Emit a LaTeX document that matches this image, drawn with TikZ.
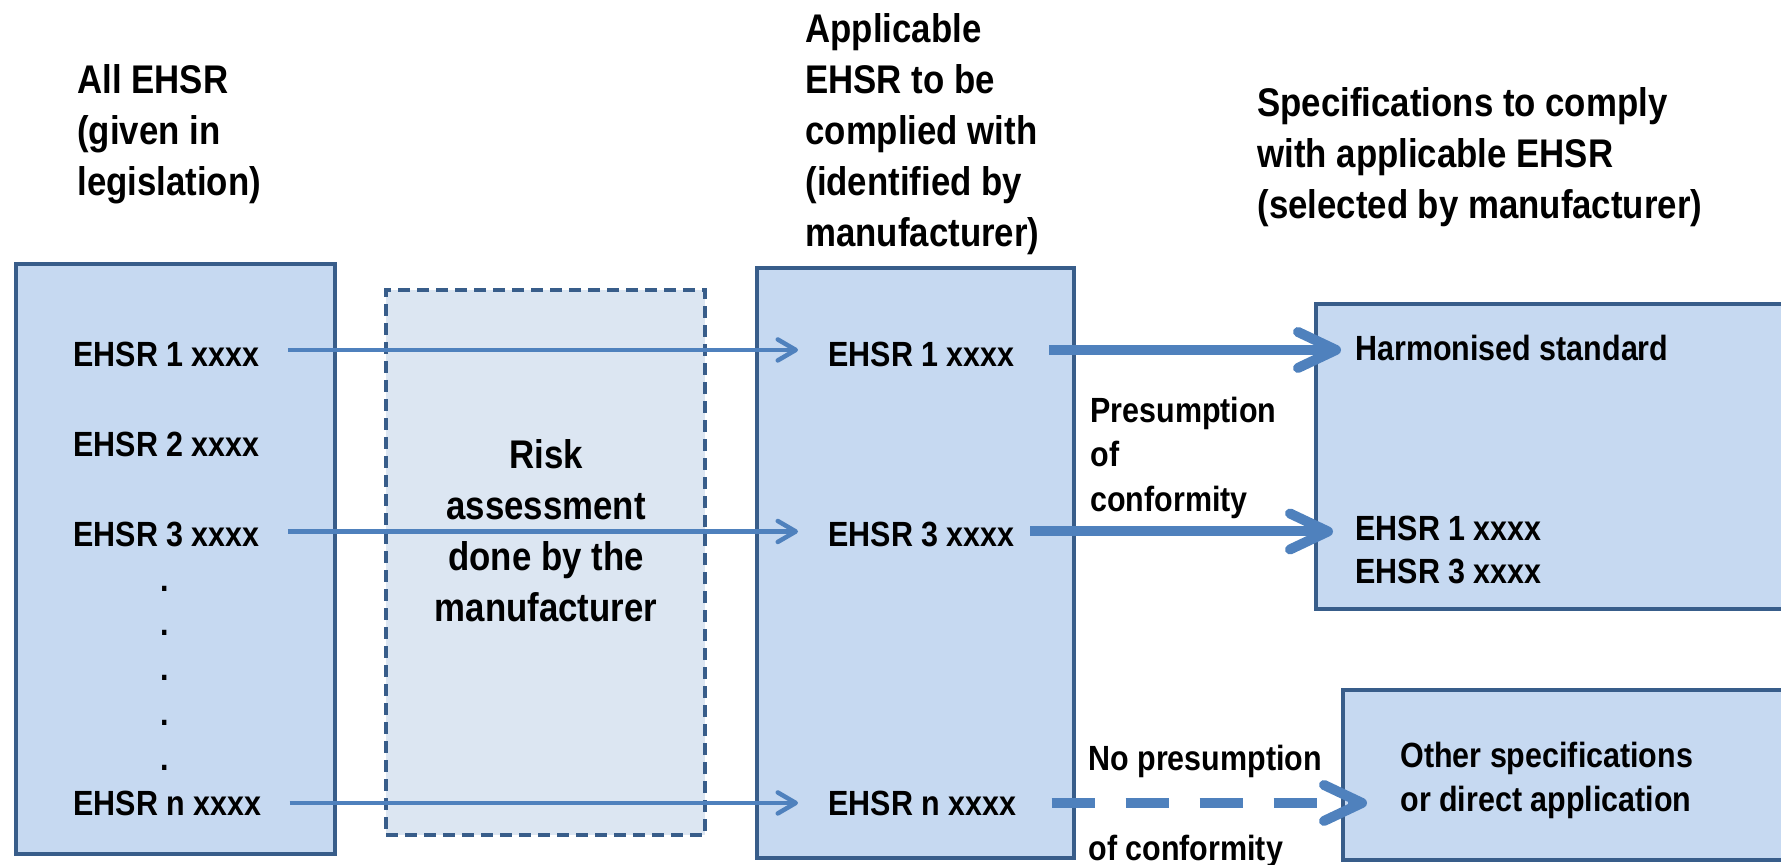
\documentclass[tikz,border=0pt]{standalone}
\usepackage{fontspec}
\setmainfont{Liberation Sans}[FakeStretch=0.87]
\usetikzlibrary{arrows.meta}
\definecolor{boxfill}{HTML}{C6D9F1}
\definecolor{riskfill}{HTML}{DCE6F2}
\definecolor{boxline}{HTML}{385D8A}
\definecolor{arrowblue}{HTML}{4F81BD}

\begin{document}
\begin{tikzpicture}[x=0.5pt, y=-0.5pt,
	box/.style = {draw=boxline, fill=boxfill, line width=2pt, anchor=north west, inner sep=0pt},
	head/.style = {font=\fontsize{20}{25.5}\selectfont\bfseries, align=left, anchor=base west, inner sep=0pt},
	item/.style = {font=\fontsize{17.5}{22.25}\selectfont\bfseries, align=left, anchor=base west, inner sep=0pt},
	link/.style = {draw=arrowblue, line width=2.25pt, -{Straight Barb[length=9pt, width=10.5pt, round]}, shorten <=14pt, shorten >=15pt},
	presume/.style = {draw=arrowblue, line width=5pt, -{Straight Barb[length=19pt, width=18pt, round]}}]
				\clip (0,0) rectangle (1781,865);
				\node[box, minimum width=159.5pt, minimum height=295pt] (L) at (14,262) {};
				\node[box, fill=riskfill, dash pattern=on 6pt off 3.5pt, minimum width=159.5pt, minimum height=272.5pt] (R) at (384,288) {};
				\node[box, minimum width=158.5pt, minimum height=295pt] (M) at (755,266) {};
				\node[box, minimum width=293pt, minimum height=152.5pt] (H) at (1314,302) {};
				\node[box, minimum width=279.5pt, minimum height=85pt] (O) at (1341,688) {};
				\node[head] (t1) at (77,196) {All EHSR\\(given in\\legislation)};
				\node[head] (t2) at (805,247) {Applicable\\EHSR to be\\complied with\\(identified by\\manufacturer)};
				\node[head] (t3) at (1257,219) {Specifications to comply\\with applicable EHSR\\(selected by manufacturer)};
				\node[head, align=center, anchor=base] (risk) at (546,621) {Risk\\assessment\\done by the\\manufacturer};
				\node[item] (a1) at (73,367) {EHSR 1 xxxx};
				\node[item] (a2) at (73,457) {EHSR 2 xxxx};
				\node[item] (a3) at (73,546) {EHSR 3 xxxx};
				\foreach \y [count=\i] in {588,632,677,722,767}
					\node[item, anchor=base] (d\i) at (165,\y+3) {.};
				\node[item] (an) at (73,815) {EHSR n xxxx};
				\node[item] (b1) at (828,367) {EHSR 1 xxxx};
				\node[item] (b3) at (828,546) {EHSR 3 xxxx};
				\node[item] (bn) at (828,815) {EHSR n xxxx};
				\node[item] (h1) at (1355,361) {Harmonised standard};
				\node[item] (h2) at (1355,540) {EHSR 1 xxxx};
				\node[item] (h3) at (1355,583) {EHSR 3 xxxx};
				\node[item] (o1) at (1400,767) {Other specifications};
				\node[item] (o2) at (1400,811) {or direct application};
				\node[item] (p1) at (1090,511) {Presumption\\of\\conformity};
				\node[item] (q1) at (1088,770) {No presumption};
				\node[item] (q2) at (1088,860) {of conformity};
				\draw[link] ([yshift=2.5pt]a1.east) -- ([yshift=2.5pt]b1.west);
				\draw[link] ([yshift=1.25pt]a3.east) -- ([yshift=1.25pt]b3.west);
				\draw[link] (an.east) -- (bn.west);
				\draw[presume, shorten <=17pt, shorten >=7pt] ([yshift=2.5pt]b1.east) -- ([yshift=2.5pt]b1.east -| h1.west);
				\draw[presume, shorten <=7.5pt, shorten >=11pt] ([yshift=1.25pt]b3.east) -- ([yshift=1.25pt]b3.east -| h2.west);
				\draw[presume, dash pattern=on 21.5pt off 15.5pt, shorten <=17.5pt, shorten >=16.5pt] (bn.east) -- (bn.east -| o2.west);
			\end{tikzpicture}
\end{document}
